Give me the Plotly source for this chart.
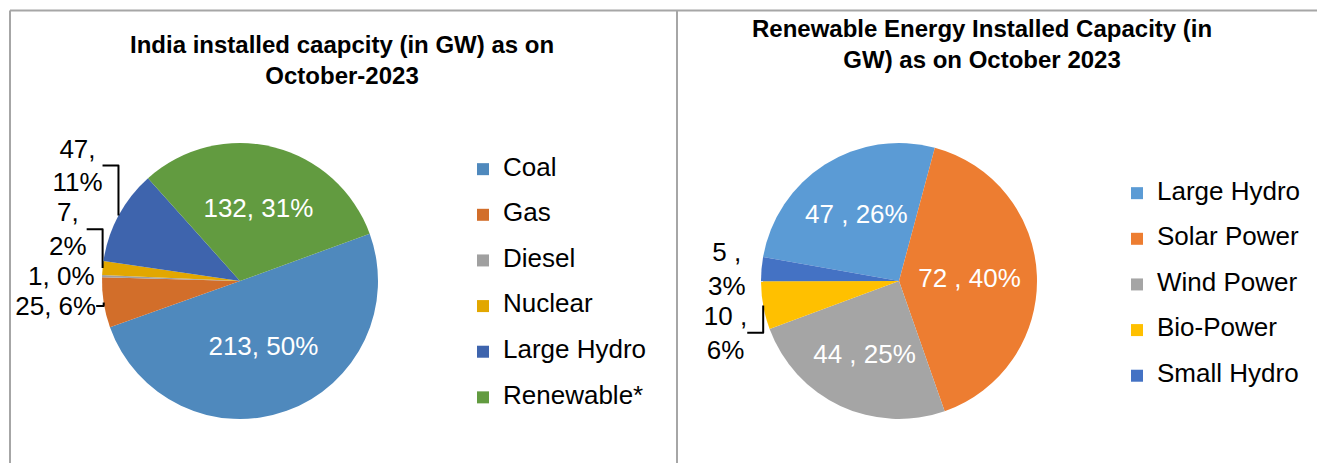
import plotly.graph_objects as go

# ---- data ----
india_labels = ["Coal", "Gas", "Diesel", "Nuclear", "Large Hydro", "Renewable*"]
india_values = [213, 25, 1, 7, 47, 132]
india_colors = ["#4F89BD", "#D26E2A", "#A0A0A0", "#E2A700", "#3E64AD", "#629B40"]

re_labels = ["Large Hydro", "Solar Power", "Wind Power", "Bio-Power", "Small Hydro"]
re_values = [47, 72, 44, 10, 5]
re_colors = ["#5B9BD5", "#ED7D31", "#A5A5A5", "#FFC000", "#4472C4"]

title_left = "<b>India installed caapcity (in GW) as on<br>October-2023</b>"
title_right = "<b>Renewable Energy Installed Capacity (in<br>GW) as on October 2023</b>"

W, H = 1317, 463
FONT = "Arial, Liberation Sans, sans-serif"
LBL = 26


def legend_text(s, tag=""):
    # two-line entry (second line blank) so that the entries are spaced like the original
    return f"<span style='font-size:{LBL}px{tag}'>{s}</span><br> "


def pie_domain(cx, cy, r):
    return dict(x=[(cx - r) / W, (cx + r) / W], y=[1 - (cy + r) / H, 1 - (cy - r) / H])


left_tt = ["%{value}, %{percent:.0%}", "%{value}, %{percent:.0%}", "%{value}, %{percent:.0%}",
           "%{value},<br>%{percent:.0%}", "%{value},<br>%{percent:.0%}", "%{value}, %{percent:.0%}"]
left_pos = ["inside", "outside", "outside", "outside", "outside", "inside"]

right_tt = ["%{value} , %{percent:.0%}", "%{value} , %{percent:.0%}", "%{value} , %{percent:.0%}",
            "%{value} ,<br>%{percent:.0%}", "%{value} ,<br>%{percent:.0%}"]
right_pos = ["inside", "inside", "inside", "outside", "outside"]

fig = go.Figure()
fig.add_trace(go.Pie(
    labels=[legend_text(s) for s in india_labels], values=india_values,
    marker=dict(colors=india_colors, line=dict(width=0)),
    sort=False, direction="clockwise", rotation=70,
    texttemplate=left_tt, textposition=left_pos,
    insidetextorientation="horizontal",
    insidetextfont=dict(family=FONT, size=LBL, color="white"),
    outsidetextfont=dict(family=FONT, size=LBL, color="black"),
    domain=pie_domain(240, 281, 138), legend="legend",
    hoverinfo="value+percent",
))
fig.add_trace(go.Pie(
    labels=[legend_text(s, ";") for s in re_labels], values=re_values,
    marker=dict(colors=re_colors, line=dict(width=0)),
    sort=False, direction="clockwise", rotation=280,
    texttemplate=right_tt, textposition=right_pos,
    insidetextorientation="horizontal",
    insidetextfont=dict(family=FONT, size=LBL, color="white"),
    outsidetextfont=dict(family=FONT, size=LBL, color="black"),
    domain=pie_domain(899, 281, 138), legend="legend2",
    hoverinfo="value+percent",
))

leg_common = dict(font=dict(family=FONT, size=16.4, color="black"), valign="top",
                  xanchor="left", yanchor="top", bgcolor="rgba(0,0,0,0)")

grey = "#A6A6A6"
shapes = [
    dict(type="line", xref="paper", yref="paper", x0=10 / W, x1=1.0, y0=1 - 10.5 / H, y1=1 - 10.5 / H,
         line=dict(color=grey, width=2)),
    dict(type="line", xref="paper", yref="paper", x0=10 / W, x1=10 / W, y0=0, y1=1 - 10.5 / H,
         line=dict(color=grey, width=2)),
    dict(type="line", xref="paper", yref="paper", x0=677 / W, x1=677 / W, y0=0, y1=1 - 10.5 / H,
         line=dict(color=grey, width=2)),
]

annotations = [
    dict(text=title_left, xref="paper", yref="paper", x=342 / W, y=1 - 60 / H, showarrow=False,
         xanchor="center", yanchor="middle", font=dict(family=FONT, size=24, color="black")),
    dict(text=title_right, xref="paper", yref="paper", x=982 / W, y=1 - 43.5 / H, showarrow=False,
         xanchor="center", yanchor="middle", font=dict(family=FONT, size=24, color="black")),
]

fig.update_layout(
    width=W, height=H,
    margin=dict(l=0, r=0, t=0, b=0),
    paper_bgcolor="white", plot_bgcolor="white",
    font=dict(family=FONT, color="black"),
    showlegend=True,
    legend=dict(x=463 / W, y=1 - 152 / H, **leg_common),
    legend2=dict(x=1117 / W, y=1 - 176 / H, **leg_common),
    shapes=shapes,
    annotations=annotations,
)

fig.write_html(
    "out.html",
    config={"displayModeBar": False},
    post_script="document.body.style.margin='0';document.body.style.overflow='hidden';",
)
